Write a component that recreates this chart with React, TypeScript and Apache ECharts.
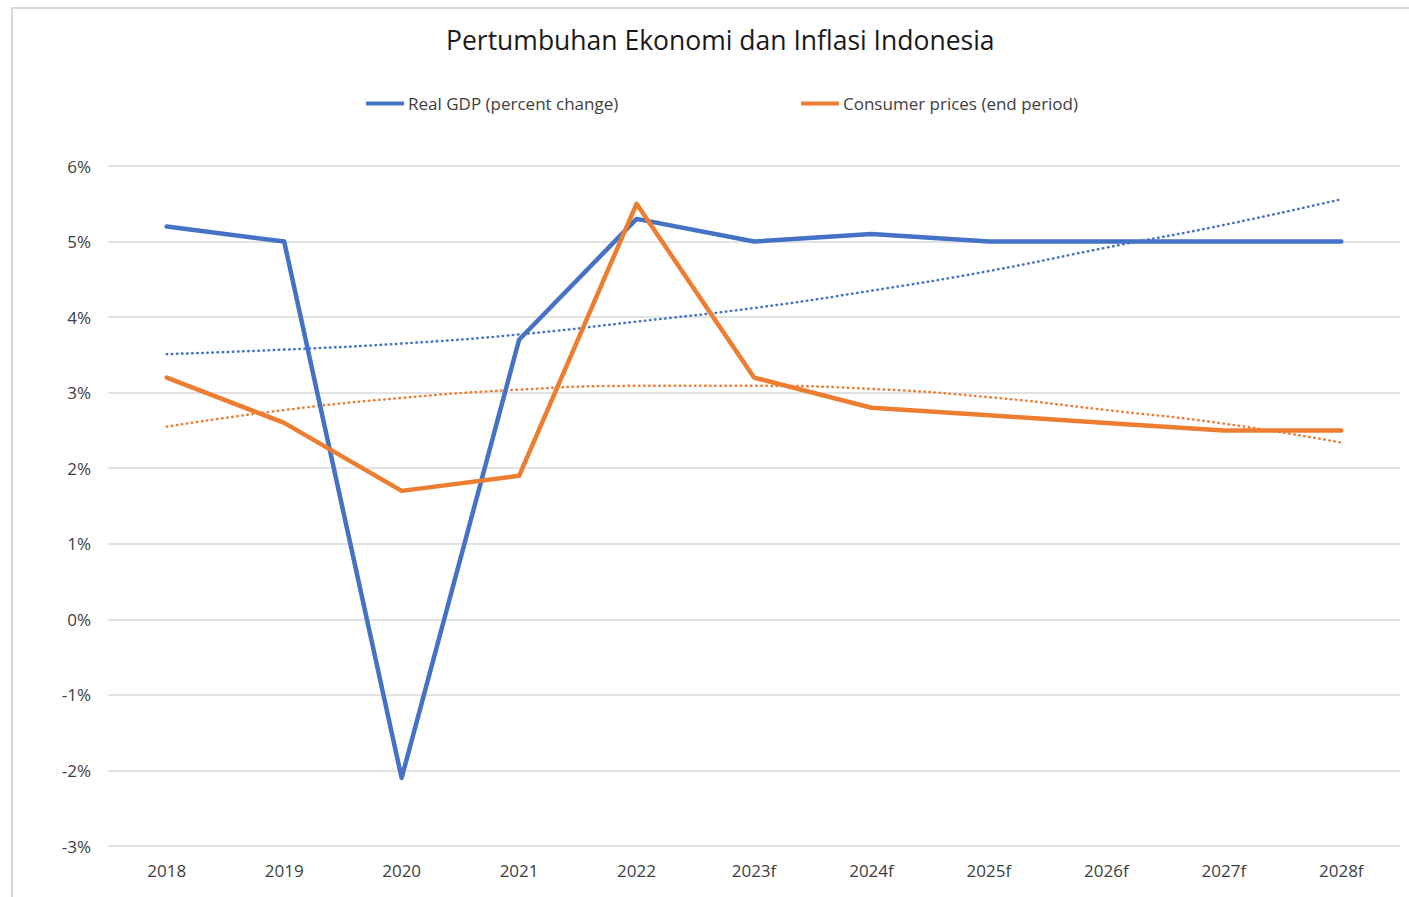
import React, { useEffect, useRef } from "react";
import * as echarts from "echarts";

const categories = ["2018", "2019", "2020", "2021", "2022", "2023f", "2024f", "2025f", "2026f", "2027f", "2028f"];
const gdp = [5.2, 5.0, -2.1, 3.7, 5.3, 5.0, 5.1, 5.0, 5.0, 5.0, 5.0];
const cpi = [3.2, 2.6, 1.7, 1.9, 5.5, 3.2, 2.8, 2.7, 2.6, 2.5, 2.5];
const gdpTrend = [3.51, 3.57, 3.65, 3.77, 3.94, 4.12, 4.35, 4.61, 4.92, 5.22, 5.56];
const cpiTrend = [2.55, 2.77, 2.93, 3.04, 3.09, 3.09, 3.05, 2.94, 2.77, 2.59, 2.34];

const GDP_NAME = "Real GDP (percent change)";
const CPI_NAME = "Consumer prices (end period)";
const BLUE = "#4472C4";
const ORANGE = "#ED7D31";
const FONT = "Open Sans";

export default function App() {
  const ref = useRef<HTMLDivElement>(null);
  useEffect(() => {
    document.body.style.margin = "0";
    const chart = echarts.init(ref.current!, undefined, { renderer: "svg" });
    const legendCommon = {
      top: 95,
      itemWidth: 38,
      itemHeight: 4,
      icon: "roundRect",
      itemGap: 4,
      textStyle: { fontFamily: FONT, fontSize: 17, color: "#404040", padding: [0, 0, 0, -1] },
      padding: 0,
    };
    chart.setOption({
      animation: false,
      backgroundColor: "#ffffff",
      title: {
        text: "Pertumbuhan Ekonomi dan Inflasi Indonesia",
        left: 446,
        top: 26,
        padding: 0,
        textStyle: { fontFamily: FONT, fontSize: 26.5, fontWeight: "normal", color: "#1a1a1a" },
      },
      legend: [
        { ...legendCommon, data: [GDP_NAME], left: 366 },
        { ...legendCommon, data: [CPI_NAME], left: 801 },
      ],
      graphic: [
        {
          type: "rect",
          shape: { x: 12, y: 8, width: 1420, height: 920 },
          style: { fill: "none", stroke: "#d9d9d9", lineWidth: 2 },
          silent: true,
        },
      ],
      grid: { left: 108, right: 9, top: 166, bottom: 51 },
      xAxis: {
        type: "category",
        data: categories,
        boundaryGap: true,
        axisLine: { show: false },
        axisTick: { show: false },
        axisLabel: { fontFamily: FONT, fontSize: 17, color: "#404040", margin: 16 },
      },
      yAxis: {
        type: "value",
        min: -3,
        max: 6,
        interval: 1,
        axisLine: { show: false },
        axisTick: { show: false },
        splitLine: { lineStyle: { color: "#d9d9d9", width: 1.5 } },
        axisLabel: {
          fontFamily: FONT,
          fontSize: 17,
          color: "#404040",
          margin: 17,
          formatter: (v: number) => `${v}%`,
        },
      },
      series: [
        {
          name: GDP_NAME,
          type: "line",
          data: gdp,
          symbol: "none",
          lineStyle: { color: BLUE, width: 4.5, cap: "round", join: "round" },
          itemStyle: { color: BLUE },
          z: 3,
        },
        {
          name: CPI_NAME,
          type: "line",
          data: cpi,
          symbol: "none",
          lineStyle: { color: ORANGE, width: 4.5, cap: "round", join: "round" },
          itemStyle: { color: ORANGE },
          z: 4,
        },
        {
          name: "GDP trend",
          type: "line",
          data: gdpTrend,
          symbol: "none",
          smooth: true,
          lineStyle: { color: BLUE, width: 2.5, type: [0.5, 4.6], cap: "round" },
          z: 2,
        },
        {
          name: "CPI trend",
          type: "line",
          data: cpiTrend,
          symbol: "none",
          smooth: true,
          lineStyle: { color: ORANGE, width: 2.5, type: [0.5, 4.6], cap: "round" },
          z: 2,
        },
      ],
    });
    return () => chart.dispose();
  }, []);
  return <div ref={ref} style={{ width: 1409, height: 897 }} />;
}
